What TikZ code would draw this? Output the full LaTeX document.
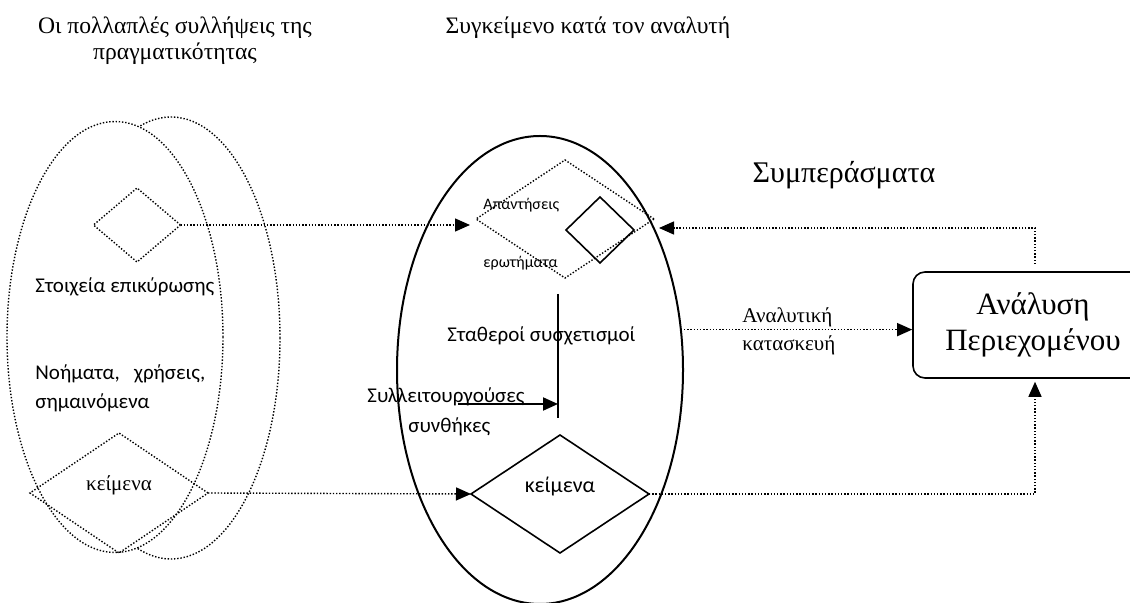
\documentclass[tikz,border=0pt]{standalone}
\usepackage{fontspec}
\setmainfont{Liberation Serif}
\newfontfamily\calfont{Carlito}
\usepackage{tikz}
\usetikzlibrary{positioning,shapes.geometric,arrows.meta}

\begin{document}
\begin{tikzpicture}[x=0.5pt,y=-0.5pt,
    dots/.style={dash pattern=on 0.7pt off 0.9pt,line width=0.7pt},
    tip/.style={-{Triangle[length=7.5pt,width=6.5pt]}},
    oval/.style={shape=ellipse,inner sep=0pt,outer sep=0pt},
    rhomb/.style={shape=diamond,draw,inner sep=0pt,outer sep=0pt},
    lbl/.style={font=\calfont\fontsize{10.5}{14.5}\selectfont,inner sep=0pt,align=left},
    small/.style={font=\calfont\fontsize{8}{10}\selectfont,inner sep=0pt},
    ttl/.style={font=\fontsize{11.8}{13}\selectfont,align=center,inner sep=0pt},]
    \clip (0,0) rectangle (1130,603);
	% titles
    \node (tReal) [ttl] at (175,41) {Οι πολλαπλές συλλήψεις της\\πραγματικότητας};
	\node (tCtx) [ttl] at (588,28) {Συγκείμενο κατά τον αναλυτή};
	\node (tConc) [ttl,font=\fontsize{15}{18}\selectfont] at (844,175) {Συμπεράσματα};

	% left side: conceptions of reality
	\node (ellB) [oval,draw,dots,minimum width=109pt,minimum height=221pt] at (171,338) {};
	\node (ellA) [oval,draw,dots,fill=white,minimum width=108pt,minimum height=215.5pt] at (115,337) {};
	\node (valid) [rhomb,dots,minimum width=43.5pt,minimum height=37pt] at (137,225) {};
	\node (ktxA) [rhomb,dots,minimum width=89pt,minimum height=60pt] at (119,493) {};
	\node (ktxAt) [inner sep=0pt,font=\fontsize{10.5}{12}\selectfont] at (119,485) {κείμενα};
	\node (stoix) [lbl,anchor=west] at (35,287) {Στοιχεία επικύρωσης};
	\node (noim) [lbl,anchor=west] at (35,388) {Νοήματα,\ \ \ χρήσεις,\\σημαινόμενα};

	% context of the analyst
	\node (ellC) [oval,draw,line width=1pt,minimum width=143pt,minimum height=234pt] at (540,370) {};
	\node (qa) [rhomb,dots,minimum width=89pt,minimum height=59pt] at (565,219) {};
	\node (qs) [rhomb,line width=0.8pt,minimum width=34pt,minimum height=33pt] at (600,230) {};
	\node (ans) [small,anchor=west] at (483,205) {Απαντήσεις};
	\node (que) [small,anchor=west] at (483,263) {ερωτήματα};
	\node (stath) [lbl,anchor=west] at (447,336) {Σταθεροί συσχετισμοί};
	\node (syll) [lbl,anchor=west] at (367,397) {Συλλειτουργούσες};
	\node (syn) [lbl,anchor=west] at (408,427) {συνθήκες};
	\node (ktxB) [rhomb,line width=0.8pt,minimum width=89pt,minimum height=59pt,font=\calfont\fontsize{11}{13}\selectfont] at (560,494) {\raisebox{9pt}{κείμενα}};
	\coordinate (vTop) at (558,294);
	\coordinate (vBot) at (558,418);
	\coordinate (hBeg) at (458,404);

	% content analysis
	\node (cA) [draw,line width=0.8pt,rounded corners=6pt,minimum width=120pt,minimum height=53pt,inner sep=0pt,
	    align=center,font=\fontsize{15.5}{18}\selectfont] at (1033,325) {Ανάλυση\\Περιεχομένου};
	\node (aK) [anchor=west,inner sep=0pt,align=left,font=\fontsize{10.5}{14}\selectfont] at (742,331) {Αναλυτική\\κατασκευή};
	\coordinate (fbEnd) at (659,228);

	% connections
	\draw[dots,tip,shorten >=3pt] (valid.east) -- (valid.east -| qa.west);
	\draw[dots,tip] (ktxA.east) -- (ktxB.west);
	\draw[dots,tip] (ellC.16) -- (ellC.16 -| cA.west);
	\draw[dots,tip] ([xshift=1pt]cA.north) ++(0,-7) |- (fbEnd);
	\draw[dots,tip,shorten >=1.5pt] (ktxB.east) -| ([xshift=1pt]cA.south);
	\draw[line width=1pt] (vTop) -- (vBot);
	\draw[line width=1pt,tip] (hBeg) -- (hBeg -| vTop);

\end{tikzpicture}
\end{document}
